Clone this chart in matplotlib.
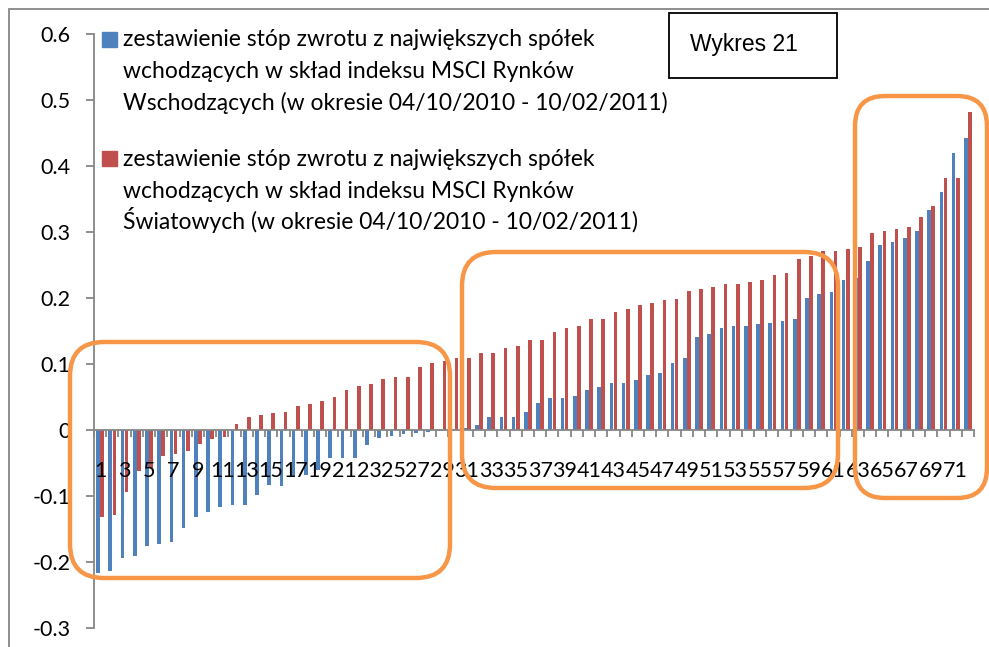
import matplotlib
matplotlib.use("Agg")
import matplotlib.pyplot as plt
import numpy as np
from matplotlib.patches import FancyBboxPatch, Rectangle
from matplotlib.transforms import IdentityTransform

plt.rcParams['font.family'] = ['Lato', 'DejaVu Sans']

# category numbers 1..72
cats = list(range(1, 73))

# stopy zwrotu - MSCI Rynkow Wschodzacych (blue)
emerging = [-0.216, -0.213, -0.194, -0.191, -0.175, -0.172, -0.170, -0.148,
            -0.132, -0.124, -0.116, -0.113, -0.113, -0.099, -0.084, -0.085,
            -0.071, -0.068, -0.060, -0.042, -0.042, -0.042, -0.023, -0.012,
            -0.009, -0.006, -0.004, -0.003, -0.002, 0.001, 0.003, 0.007,
            0.020, 0.020, 0.020, 0.028, 0.041, 0.049, 0.049, 0.052,
            0.060, 0.065, 0.071, 0.071, 0.076, 0.084, 0.087, 0.101,
            0.109, 0.141, 0.146, 0.154, 0.157, 0.157, 0.160, 0.162,
            0.165, 0.168, 0.200, 0.206, 0.209, 0.227, 0.230, 0.256,
            0.280, 0.285, 0.291, 0.302, 0.334, 0.361, 0.420, 0.442]

# stopy zwrotu - MSCI Rynkow Swiatowych (red)
world = [-0.132, -0.129, -0.094, -0.062, -0.058, -0.040, -0.037, -0.032,
         -0.021, -0.014, -0.011, 0.009, 0.020, 0.023, 0.026, 0.028,
         0.036, 0.039, 0.044, 0.050, 0.060, 0.066, 0.069, 0.077,
         0.080, 0.080, 0.096, 0.101, 0.104, 0.109, 0.109, 0.116,
         0.116, 0.124, 0.127, 0.136, 0.136, 0.149, 0.154, 0.157,
         0.168, 0.168, 0.179, 0.184, 0.189, 0.192, 0.197, 0.199,
         0.211, 0.213, 0.216, 0.221, 0.221, 0.224, 0.227, 0.235,
         0.238, 0.259, 0.264, 0.271, 0.271, 0.274, 0.277, 0.298,
         0.301, 0.304, 0.307, 0.323, 0.339, 0.382, 0.382, 0.482]

label_blue = ["zestawienie stóp zwrotu z największych spółek",
              "wchodzących w skład indeksu MSCI Rynków",
              "Wschodzących (w okresie 04/10/2010 - 10/02/2011)"]
label_red = ["zestawienie stóp zwrotu z największych spółek",
             "wchodzących w skład indeksu MSCI Rynków",
             "Światowych (w okresie 04/10/2010 - 10/02/2011)"]

W, H = 989, 647
BLUE = '#4F81BD'
RED = '#C0504D'
ORANGE = '#F79646'
GRAY = '#868686'

fig = plt.figure(figsize=(W / 100, H / 100), dpi=100)


def fx(x):
    return x / W


def fy(y):
    return 1 - y / H


ax = fig.add_axes([fx(94), fy(628), fx(974) - fx(94), fy(34) - fy(628)])
ax.set_axisbelow(False)

x = np.array(cats)
ax.bar(x - 0.165, emerging, width=0.3, color=BLUE, zorder=2)
ax.bar(x + 0.165, world, width=0.3, color=RED, zorder=2)

ax.set_xlim(0.5, 72.5)
ax.set_ylim(-0.3, 0.6)

for s in ['top', 'right']:
    ax.spines[s].set_visible(False)
ax.spines['left'].set_color(GRAY)
ax.spines['left'].set_linewidth(1.3)
ax.spines['bottom'].set_position(('data', 0))
ax.spines['bottom'].set_color(GRAY)
ax.spines['bottom'].set_linewidth(1.3)

yt = np.round(np.arange(-0.3, 0.61, 0.1), 1)
ax.set_yticks(yt)
ax.set_yticklabels([f"{v:g}" if v != 0 else "0" for v in yt])
ax.tick_params(axis='y', length=6, width=1.3, color=GRAY, pad=11,
               labelsize=15.5)

ax.set_xticks(cats[::2])
ax.set_xticklabels([str(c) for c in cats[::2]])
ax.set_xticks(np.arange(0.5, 73, 1.0), minor=True)
ax.tick_params(axis='x', which='major', length=0, pad=22, labelsize=15.5)
ax.tick_params(axis='x', which='minor', length=5, width=1.3, color=GRAY,
               direction='out')

# legend (drawn Excel-style, square next to the first line)
fig.patches.append(Rectangle((fx(102), fy(47)), fx(15), fy(32) - fy(47),
                             transform=fig.transFigure, color=BLUE))
fig.patches.append(Rectangle((fx(102), fy(166)), fx(15), fy(151) - fy(166),
                             transform=fig.transFigure, color=RED))
for i, line in enumerate(label_blue):
    fig.text(fx(123), fy(46 + 32 * i), line, fontsize=16.5, va='baseline',
             ha='left')
for i, line in enumerate(label_red):
    fig.text(fx(123), fy(166 + 31.5 * i), line, fontsize=16.5,
             va='baseline', ha='left')

# "Wykres 21" box
fig.patches.append(Rectangle((fx(669), fy(78)), fx(837) - fx(669),
                             fy(13) - fy(78), transform=fig.transFigure,
                             fill=False, edgecolor='black', linewidth=1.3))
fig.text(fx(690), fy(45), "Wykres 21", fontsize=16.5, va='center', ha='left',
         family=['Liberation Sans', 'DejaVu Sans'])

# outer chart frame
fig.patches.append(Rectangle((fx(9), fy(670)), fx(1010), fy(9) - fy(670),
                             transform=fig.transFigure, fill=False,
                             edgecolor=GRAY, linewidth=1.3))

# orange highlight boxes (pixel coordinates)
boxes = [(70, 342, 450, 578, 34), (462, 252, 838, 488, 34),
         (855, 96, 987, 498, 30)]
for x0, y0, x1, y1, r in boxes:
    p = FancyBboxPatch((x0, H - y1), x1 - x0, y1 - y0,
                       boxstyle=f"round,pad=0,rounding_size={r}",
                       transform=IdentityTransform(), fill=False,
                       edgecolor=ORANGE, linewidth=3.2, zorder=5)
    fig.patches.append(p)

fig.savefig("out.png", dpi=100)
